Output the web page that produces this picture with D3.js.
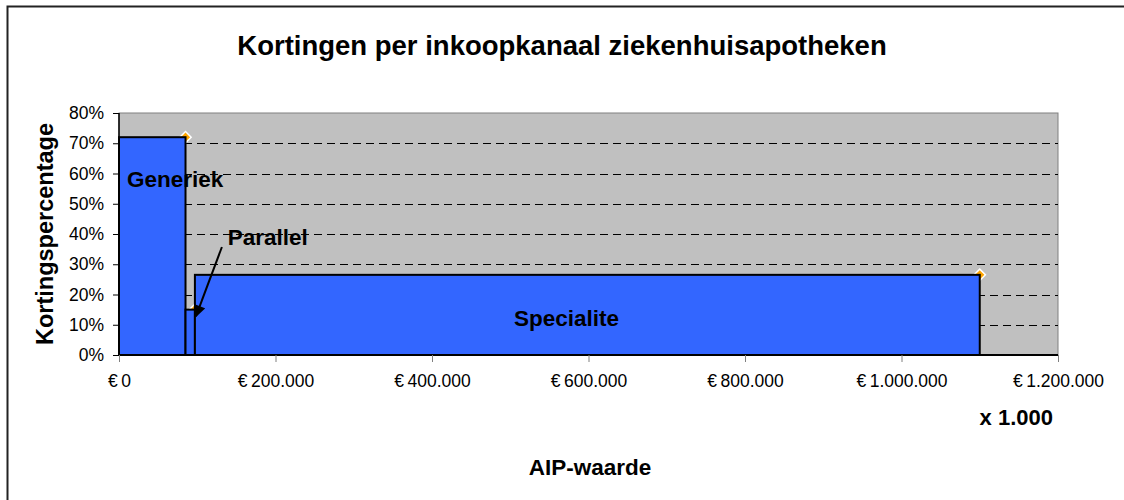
<!DOCTYPE html>
<html>
<head>
<meta charset="utf-8">
<script src="https://cdn.jsdelivr.net/npm/d3@7"></script>
<style>
    body { margin: 0; background: #fff; overflow: hidden; }
    svg { display: block; font-family: "Liberation Sans", Arial, sans-serif; }
</style>
</head>
<body>
<div id="chart"></div>
<script>
// inkoopkanalen, breedte = AIP-waarde (x 1.000), hoogte = kortingspercentage
const channels = ["Generiek", "Parallel", "Specialite"];
const aipValues = [85000, 12000, 1003000];
const discounts = [0.72, 0.15, 0.265];
const xTicks = [0, 200000, 400000, 600000, 800000, 1000000, 1200000];
const yTicks = [0, 0.1, 0.2, 0.3, 0.4, 0.5, 0.6, 0.7, 0.8];

const WIDTH = 1124;
const HEIGHT = 500;
const margin = {top: 113, right: 66, bottom: 145, left: 119};
const width = WIDTH - margin.left - margin.right;
const height = HEIGHT - margin.top - margin.bottom;

const ends = d3.cumsum(aipValues);
const data = channels.map((c, i) => ({
    key: c,
    x0: ends[i] - aipValues[i],
    x1: ends[i],
    value: discounts[i]
}));

const nl = d3.formatLocale({decimal: ",", thousands: ".", grouping: [3], currency: ["\u20ac", ""]});

const svg = d3.select("#chart").append("svg")
    .attr("width", WIDTH)
    .attr("height", HEIGHT);

svg.append("defs").append("marker")
    .attr("id", "arrow")
    .attr("viewBox", "0 0 10 10")
    .attr("refX", 9).attr("refY", 5)
    .attr("markerUnits", "userSpaceOnUse")
    .attr("markerWidth", 13).attr("markerHeight", 12)
    .attr("orient", "auto")
    .append("path")
    .attr("d", "M0,0 L10,5 L0,10 z")
    .attr("fill", "#000");

// chart border (only left and top are inside the picture)
svg.append("path")
    .attr("d", "M7.5," + HEIGHT + "V6.5H" + WIDTH)
    .attr("fill", "none")
    .attr("stroke", "#222")
    .attr("stroke-width", 2);

svg.append("text")
    .attr("x", 562).attr("y", 55)
    .attr("text-anchor", "middle")
    .style("font-size", "27.5px")
    .style("font-weight", "bold")
    .text("Kortingen per inkoopkanaal ziekenhuisapotheken");

const g = svg.append("g")
    .attr("transform", "translate(" + margin.left + "," + margin.top + ")");

const x = d3.scaleLinear().domain([0, 1200000]).range([0, width]);
const y = d3.scaleLinear().domain([0, 0.8]).range([height, 0]);

g.append("rect")
    .attr("width", width).attr("height", height)
    .attr("fill", "#c0c0c0")
    .attr("stroke", "#808080");

g.selectAll(".grid")
    .data(yTicks.filter(t => t > 0 && t < 0.8))
    .enter().append("line")
    .attr("class", "grid")
    .attr("x1", 0).attr("x2", width)
    .attr("y1", d => Math.round(y(d)) + 0.5)
    .attr("y2", d => Math.round(y(d)) + 0.5)
    .attr("stroke", "#000")
    .attr("stroke-dasharray", "8,5");

// diamonds at the top-right corner of each bar (behind the bars)
g.selectAll(".point")
    .data(data)
    .enter().append("path")
    .attr("class", "point")
    .attr("d", d3.symbol(d3.symbolSquare, 64))
    .attr("transform", d => "translate(" + x(d.x1) + "," + y(d.value) + ") rotate(45)")
    .attr("fill", "#ffa500")
    .attr("stroke", "#fff")
    .attr("stroke-width", 1.5);

g.selectAll(".bar")
    .data(data)
    .enter().append("rect")
    .attr("class", "bar")
    .attr("x", d => x(d.x0))
    .attr("y", d => y(d.value))
    .attr("width", d => x(d.x1) - x(d.x0))
    .attr("height", d => height - y(d.value))
    .attr("fill", "#3366ff")
    .attr("stroke", "#000")
    .attr("stroke-width", 2);

const xAxis = g.append("g")
    .attr("transform", "translate(0," + height + ")")
    .call(d3.axisBottom(x).tickValues(xTicks).tickSize(7).tickPadding(13)
        .tickFormat(d => "\u20ac\u2009" + nl.format(",")(d)));
xAxis.select(".domain").attr("stroke", "#000").attr("stroke-width", 2).attr("d", "M0,0H" + width);
xAxis.selectAll(".tick line").attr("stroke", "#808080");
xAxis.selectAll("text").style("font-size", "17.5px").attr("fill", "#000");

const yAxis = g.append("g")
    .call(d3.axisLeft(y).tickValues(yTicks).tickSize(6).tickPadding(9).tickFormat(d3.format(".0%")));
yAxis.select(".domain").attr("stroke", "#000").attr("stroke-width", 1.5).attr("d", "M0," + height + "V0");
yAxis.selectAll(".tick line").attr("stroke", "#000");
yAxis.selectAll("text").style("font-size", "17.5px").attr("fill", "#000");

// labels inside the chart
const label = (t, px, py, anchor) => g.append("text")
    .attr("x", px).attr("y", py)
    .attr("text-anchor", anchor)
    .style("font-size", "22.5px")
    .style("font-weight", "bold")
    .text(t);

label(channels[0], x(0) + 8, y(0.555), "start");
label(channels[1], x(139000), y(0.364), "start");
label(channels[2], x(572000), y(0.096), "middle");

g.append("line")
    .attr("x1", x(131500)).attr("y1", y(0.357))
    .attr("x2", x(98300)).attr("y2", y(0.128))
    .attr("stroke", "#000")
    .attr("stroke-width", 2)
    .attr("marker-end", "url(#arrow)");

// axis titles
svg.append("text")
    .attr("transform", "translate(53,234) rotate(-90)")
    .attr("text-anchor", "middle")
    .style("font-size", "23.5px")
    .style("font-weight", "bold")
    .text("Kortingspercentage");

svg.append("text")
    .attr("x", 1053).attr("y", 425)
    .attr("text-anchor", "end")
    .style("font-size", "22px")
    .style("font-weight", "bold")
    .text("x 1.000");

svg.append("text")
    .attr("x", 590).attr("y", 475)
    .attr("text-anchor", "middle")
    .style("font-size", "22.5px")
    .style("font-weight", "bold")
    .text("AIP-waarde");
</script>
</body>
</html>
